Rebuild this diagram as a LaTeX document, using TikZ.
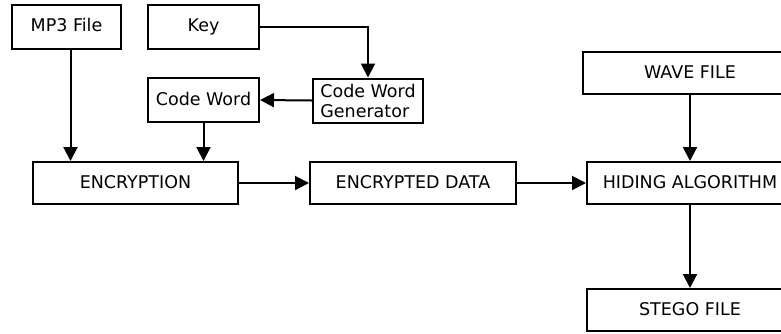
\documentclass[tikz,border=0pt]{standalone}
\usepackage{fontspec}
\setmainfont{DejaVu Sans}
\usetikzlibrary{arrows.meta}
\begin{document}
\begin{tikzpicture}[x=1pt,y=-1pt,
  box/.style={draw,line width=2pt,inner sep=0pt,minimum height=44pt,text height=13pt,text depth=3pt,font=\fontsize{17.5}{20}\selectfont},
  flow/.style={line width=2pt,-{Triangle[length=14pt,width=14pt]}}]
\useasboundingbox (0,0) rectangle (781,333);
\node[box,minimum width=109pt] (mp3) at (66.5,26.5) {MP3 File};
\node[box,minimum width=111pt] (key) at (203.5,26.5) {Key};
\node[box,minimum width=111pt] (cw) at (203.5,100) {Code Word};
\node[box,minimum width=110pt,align=left,text height=,text depth=] (cwg) at (368,100.5) {Code Word\\Generator};
\node[box,minimum width=205pt,minimum height=42pt] (enc) at (135.5,183) {ENCRYPTION};
\node[box,minimum width=206pt,minimum height=42pt] (encd) at (413,183) {ENCRYPTED DATA};
\node[box,minimum width=206pt,minimum height=42pt] (hid) at (690,183) {HIDING ALGORITHM};
\node[box,minimum width=214pt,minimum height=42pt] (wave) at (690,73) {WAVE FILE};
\node[box,minimum width=206pt,minimum height=42pt] (stego) at (690,310) {STEGO FILE};

\draw[flow] (key.east) -| (cwg.north);
\draw[flow] (cwg.west) -- (cw.east);
\draw[flow] ([xshift=4pt]mp3.south) -- ([xshift=4pt]mp3.south |- enc.north);
\draw[flow] (cw.south) -- (cw.south |- enc.north);
\draw[flow] (enc.east) -- (encd.west);
\draw[flow] (encd.east) -- (hid.west);
\draw[flow] (wave.south) -- (hid.north);
\draw[flow] (hid.south) -- (stego.north);
\end{tikzpicture}
\end{document}
